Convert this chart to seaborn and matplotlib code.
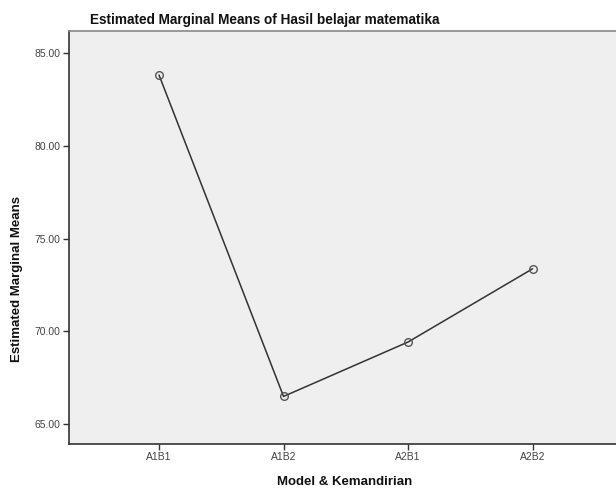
import matplotlib
matplotlib.use("Agg")
import matplotlib.pyplot as plt
import seaborn as sns
import pandas as pd
from matplotlib.ticker import FormatStrFormatter

# Estimated marginal means per group
groups = ["A1B1", "A1B2", "A2B1", "A2B2"]
means = [83.8, 66.5, 69.43, 73.37]
yticks = [65, 70, 75, 80, 85]

df = pd.DataFrame({"Group": groups, "Mean": means})

sns.set_style("white")
plt.rcParams["font.family"] = ["Liberation Sans", "DejaVu Sans"]

fig = plt.figure(figsize=(6.16, 4.90), dpi=100)
ax = fig.add_axes([69 / 616, 46 / 490, 547 / 616, 413 / 490])
ax.set_facecolor("#efefef")

sns.lineplot(
    data=df,
    x="Group",
    y="Mean",
    sort=False,
    color="#333333",
    linewidth=1.1,
    marker="o",
    markersize=5.5,
    markerfacecolor="none",
    markeredgecolor="#555555",
    markeredgewidth=1.0,
    ax=ax,
)

ax.set_xlim(-0.723, 3.67)
ax.set_ylim(63.94, 86.17)
ax.set_yticks(yticks)
ax.yaxis.set_major_formatter(FormatStrFormatter("%.2f"))
ax.tick_params(axis="both", direction="out", length=4, width=1, color="#333333",
               labelsize=7.5, labelcolor="#444444", pad=2)
ax.tick_params(axis="x", bottom=True)
ax.tick_params(axis="y", left=True)
ax.set_xlabel("")
ax.set_ylabel("")

for side in ["left", "bottom"]:
    ax.spines[side].set_color("#333333")
    ax.spines[side].set_linewidth(1.2)
ax.spines["top"].set_color("#888888")
ax.spines["top"].set_linewidth(1.2)
ax.spines["right"].set_visible(False)

fig.text(265 / 616, 1 - 20 / 490, "Estimated Marginal Means of Hasil belajar matematika",
         ha="center", va="center", fontsize=9.8, fontweight="bold", color="#111111")
fig.text(345 / 616, 1 - 482 / 490, "Model & Kemandirian",
         ha="center", va="center", fontsize=9.5, fontweight="bold", color="#111111")
fig.text(17 / 616, 1 - 279 / 490, "Estimated Marginal Means", rotation=90,
         ha="center", va="center", fontsize=9.5, fontweight="bold", color="#111111")

fig.savefig("out.png", dpi=100)
